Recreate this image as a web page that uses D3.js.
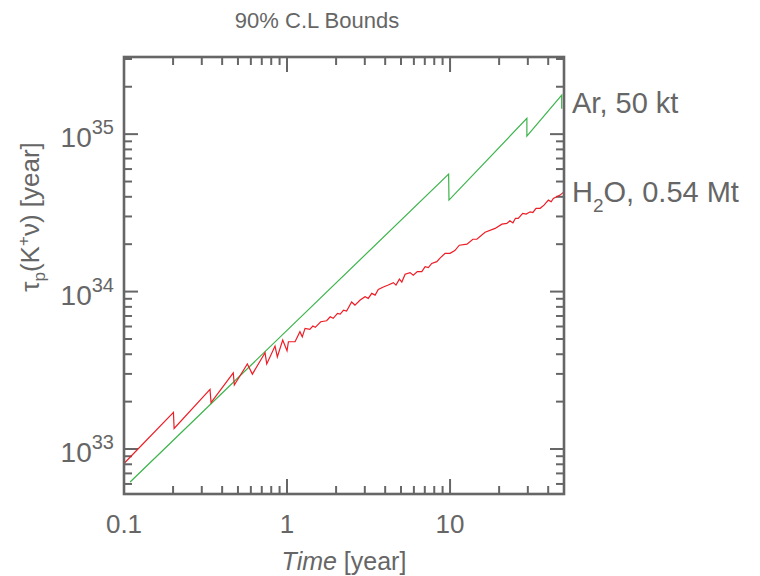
<!DOCTYPE html>
<html>
<head>
<meta charset="utf-8">
<script src="https://cdn.jsdelivr.net/npm/d3@7"></script>
<style>
  body { margin: 0; background: #fff; }
  svg text { font-family: 'Liberation Sans', Arial, sans-serif; fill: #666; }
</style>
</head>
<body>
<div id="chart"></div>
<script>
// Ar, 50 kt (green)
var arTime = [0.109, 9.8, 9.85, 29.6, 29.6, 48.4, 48.4];
var arTau = [6.17e32, 5.57e34, 3.81e34, 1.26e35, 9.71e34, 1.77e35, 1.45e35];

// H2O, 0.54 Mt (red)
var h2oTime = [0.101, 0.201, 0.203, 0.337, 0.342, 0.468, 0.475, 0.571, 0.613, 0.733,
  0.751, 0.844, 0.872, 0.941, 1.00, 1.02, 1.12, 1.20, 1.24, 1.29,
  1.38, 1.44, 1.49, 1.61, 1.75, 1.84, 1.92, 2.04, 2.12, 2.22,
  2.32, 2.49, 2.61, 2.81, 3.01, 3.15, 3.31, 3.47, 3.63, 3.90,
  4.18, 4.49, 4.66, 4.89, 5.06, 5.30, 5.68, 5.95, 6.30, 6.71,
  7.03, 7.36, 7.72, 8.29, 8.68, 9.32, 10.0, 10.7, 11.4, 12.7,
  13.8, 14.6, 16.4, 18.9, 20.8, 22.3, 23.3, 24.3, 25.2, 26.2,
  27.9, 29.3, 31.0, 32.2, 33.7, 35.7, 37.7, 40.1, 41.7, 43.0,
  47.3, 50.0];
var h2oTau = [8.18e32, 1.71e33, 1.35e33, 2.39e33, 1.97e33, 3.05e33, 2.55e33, 3.47e33, 2.99e33, 4.09e33,
  3.47e33, 4.51e33, 3.85e33, 4.92e33, 4.21e33, 4.80e33, 4.80e33, 5.56e33, 5.16e33, 5.84e33,
  5.75e33, 6.04e33, 5.93e33, 6.43e33, 6.53e33, 6.92e33, 6.76e33, 7.27e33, 7.20e33, 7.63e33,
  7.52e33, 8.58e33, 8.21e33, 8.83e33, 9.27e33, 9.05e33, 9.74e33, 9.50e33, 1.03e34, 1.07e34,
  1.10e34, 1.14e34, 1.10e34, 1.20e34, 1.15e34, 1.29e34, 1.32e34, 1.27e34, 1.34e34, 1.34e34,
  1.44e34, 1.42e34, 1.51e34, 1.55e34, 1.63e34, 1.75e34, 1.75e34, 1.82e34, 1.97e34, 2.00e34,
  2.15e34, 2.15e34, 2.38e34, 2.52e34, 2.68e34, 2.71e34, 2.82e34, 2.73e34, 2.92e34, 2.92e34,
  3.14e34, 3.11e34, 3.21e34, 3.18e34, 3.38e34, 3.38e34, 3.54e34, 3.81e34, 3.72e34, 3.91e34,
  4.10e34, 4.30e34];

var xTickValues = [0.1, 1, 10];
var xTickLabels = ['0.1', '1', '10'];
var yTickExponents = [33, 34, 35];

(function() {
  'use strict';

  var width = 760, height = 576;
  var left = 124, right = 564, top = 57, bottom = 494;
  var axisColor = '#666';

  var svg = d3.select('#chart').append('svg')
    .attr('width', width)
    .attr('height', height);

  var x = d3.scaleLog().domain([0.1, 50]).range([left, right]);
  var y = d3.scaleLog().domain([5.18e32, 3.09e35]).range([bottom, top]);

  // Ticks on all four sides, pointing inward
  var ticksG = svg.append('g')
    .style('stroke', axisColor)
    .style('stroke-width', '2');

  var xMinor = x.ticks().filter(function(t) { return xTickValues.indexOf(t) < 0 && t > 0.1 && t < 50; });
  var yMinor = y.ticks().filter(function(t) {
    var e = Math.log10(t);
    return Math.abs(e - Math.round(e)) > 1e-6;
  });
  var yMajor = yTickExponents.map(function(e) { return Math.pow(10, e); });

  function xTick(t, len) {
    ticksG.append('line').attr('x1', x(t)).attr('x2', x(t)).attr('y1', bottom).attr('y2', bottom - len);
    ticksG.append('line').attr('x1', x(t)).attr('x2', x(t)).attr('y1', top).attr('y2', top + len);
  }
  function yTick(v, len) {
    if (y(v) <= top + 2 || y(v) >= bottom - 2) return;
    ticksG.append('line').attr('y1', y(v)).attr('y2', y(v)).attr('x1', left).attr('x2', left + len);
    ticksG.append('line').attr('y1', y(v)).attr('y2', y(v)).attr('x1', right).attr('x2', right - len);
  }
  xMinor.forEach(function(t) { xTick(t, 8); });
  xTickValues.slice(1).forEach(function(t) { xTick(t, 15); });
  yMinor.forEach(function(v) { yTick(v, 8); });
  yMajor.forEach(function(v) { yTick(v, 14); });

  // Lines
  var line = d3.line()
    .x(function(d) { return x(d[0]); })
    .y(function(d) { return y(d[1]); });

  var arData = arTime.map(function(t, i) { return [t, arTau[i]]; });
  var h2oData = h2oTime.map(function(t, i) { return [t, h2oTau[i]]; });

  svg.append('path')
    .datum(arData)
    .attr('d', line)
    .style('fill', 'none')
    .style('stroke', '#3cb44b')
    .style('stroke-width', '1.2');

  svg.append('path')
    .datum(h2oData)
    .attr('d', line)
    .style('fill', 'none')
    .style('stroke', '#ee1c25')
    .style('stroke-width', '1.2');

  // Frame
  svg.append('rect')
    .attr('x', left).attr('y', top)
    .attr('width', right - left).attr('height', bottom - top)
    .style('fill', 'none')
    .style('stroke', axisColor)
    .style('stroke-width', '2.6');

  // X tick labels
  svg.append('g').selectAll('text')
    .data(xTickValues)
    .join('text')
    .attr('x', function(d) { return x(d); })
    .attr('y', 533)
    .attr('text-anchor', 'middle')
    .style('font-size', '26px')
    .text(function(d, i) { return xTickLabels[i]; });

  // Y tick labels 10^n
  var yl = svg.append('g').selectAll('text')
    .data(yTickExponents)
    .join('text')
    .attr('x', 114)
    .attr('y', function(d) { return y(Math.pow(10, d)) + 13; })
    .attr('text-anchor', 'end')
    .style('font-size', '28px');
  yl.append('tspan').text('10');
  yl.append('tspan').attr('dy', -13).style('font-size', '20px').text(function(d) { return d; });

  // Axis titles
  var xt = svg.append('text')
    .attr('x', (left + right) / 2)
    .attr('y', 570)
    .attr('text-anchor', 'middle')
    .style('font-size', '25px');
  xt.append('tspan').style('font-style', 'italic').text('Time');
  xt.append('tspan').text(' [year]');

  var yt = svg.append('text')
    .attr('transform', 'translate(39,217) rotate(-90)')
    .attr('text-anchor', 'middle')
    .style('font-size', '26px');
  yt.append('tspan').text('\u03C4');
  yt.append('tspan').attr('dy', 6).style('font-size', '17px').text('p');
  yt.append('tspan').attr('dy', -6).text('(K');
  yt.append('tspan').attr('dy', -10).style('font-size', '17px').text('+');
  yt.append('tspan').attr('dy', 10).text('\u03BD) [year]');

  // Title
  svg.append('text')
    .attr('x', 317)
    .attr('y', 28)
    .attr('text-anchor', 'middle')
    .style('font-size', '22px')
    .text('90% C.L Bounds');

  // Series labels at right edge
  svg.append('text')
    .attr('x', right + 8)
    .attr('y', y(arTau[arTau.length - 2]) + 18)
    .style('font-size', '29px')
    .text('Ar, 50 kt');

  var hl = svg.append('text')
    .attr('x', right + 8)
    .attr('y', y(h2oTau[h2oTau.length - 1]) + 10)
    .style('font-size', '29px');
  hl.append('tspan').text('H');
  hl.append('tspan').attr('dy', 10).style('font-size', '19px').text('2');
  hl.append('tspan').attr('dy', -10).text('O, 0.54 Mt');
})();
</script>
</body>
</html>
